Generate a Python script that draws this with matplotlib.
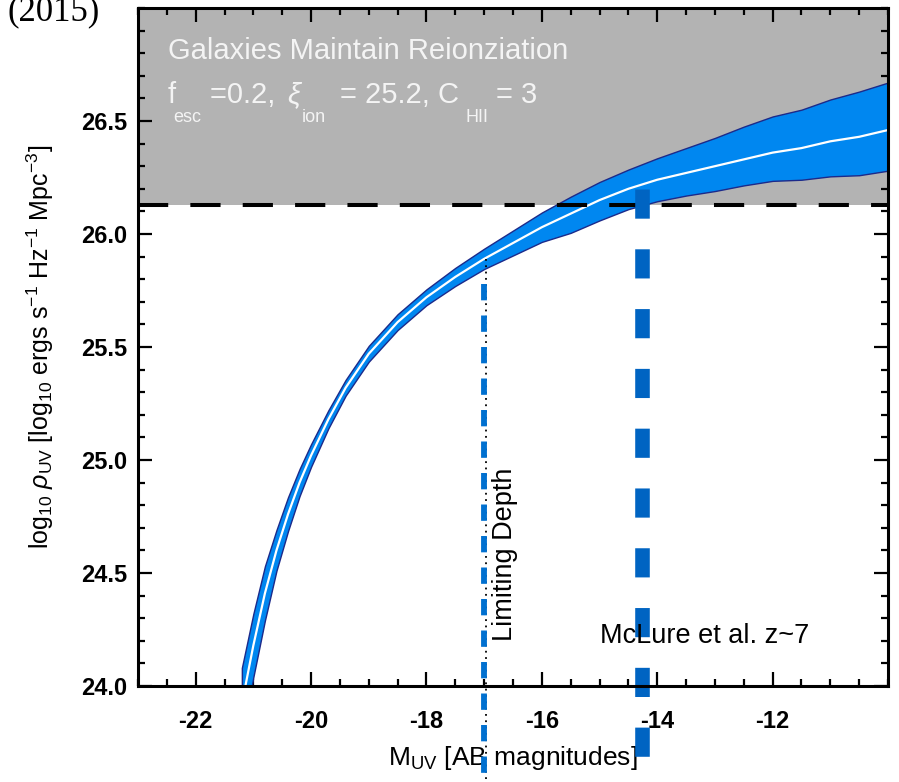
import numpy as np
import matplotlib.pyplot as plt
from matplotlib.ticker import MultipleLocator, FormatStrFormatter

plt.rcParams['font.family'] = ['Liberation Sans', 'DejaVu Sans']
plt.rcParams['mathtext.fontset'] = 'custom'
plt.rcParams['mathtext.rm'] = 'Liberation Sans'
plt.rcParams['mathtext.it'] = 'Liberation Sans:italic'
plt.rcParams['mathtext.bf'] = 'Liberation Sans:bold'

# UV luminosity density integrated down to M_UV
m_uv = [-21.2, -21.0, -20.8, -20.6, -20.4, -20.2, -20.0, -19.7, -19.4, -19.0,
        -18.5, -18.0, -17.5, -17.0, -16.5, -16.0, -15.5, -15.0, -14.5, -14.0,
        -13.5, -13.0, -12.5, -12.0, -11.5, -11.0, -10.5, -10.0]
rho_mid = [23.92, 24.18, 24.41, 24.60, 24.76, 24.90, 25.02, 25.18, 25.32, 25.47,
           25.61, 25.72, 25.81, 25.89, 25.96, 26.03, 26.09, 26.15, 26.20, 26.24,
           26.27, 26.30, 26.33, 26.36, 26.38, 26.41, 26.43, 26.46]
rho_hi = [24.08, 24.32, 24.53, 24.69, 24.835, 24.96, 25.07, 25.22, 25.355, 25.505,
          25.645, 25.755, 25.85, 25.935, 26.015, 26.095, 26.165, 26.23, 26.285, 26.335,
          26.38, 26.425, 26.475, 26.52, 26.55, 26.595, 26.63, 26.67]
rho_lo = [23.76, 24.04, 24.29, 24.51, 24.685, 24.84, 24.97, 25.14, 25.285, 25.435,
          25.575, 25.685, 25.77, 25.845, 25.905, 25.965, 26.005, 26.06, 26.11, 26.145,
          26.17, 26.19, 26.215, 26.235, 26.24, 26.255, 26.26, 26.28]

rho_crit = 26.13        # level needed to maintain reionization
m_limit = -17.0         # limiting depth
m_mclure = -14.27       # McLure et al. z~7

x_ticks = [-22, -20, -18, -16, -14, -12]
y_ticks = [24.0, 24.5, 25.0, 25.5, 26.0, 26.5]

fig = plt.figure(figsize=(8.99, 7.82), dpi=100)
ax = fig.add_axes([0.1535, 0.1228, 0.8343, 0.867])
ax.set_xlim(-23, -10)
ax.set_ylim(24, 27)

# shaded region + threshold
ax.axhspan(rho_crit, 27, color='#b3b3b3', lw=0, zorder=0)
ax.fill_between(m_uv, rho_lo, rho_hi, facecolor='#0087f0', edgecolor='#1c2a8a',
                lw=1.0, zorder=2)
ax.plot(m_uv, rho_mid, color='white', lw=1.6, zorder=3)
ax.axhline(rho_crit, color='black', lw=2.9, dashes=(7.5, 5.5), zorder=4)

# limiting depth line (blue dashes with a thin black dotted line)
y_lim_top = np.interp(m_limit, m_uv, rho_mid)
ax.plot([m_limit + 0.03, m_limit + 0.03], [y_lim_top, 23.3], color='black', lw=1.3,
        dashes=(1, 2.5), clip_on=False, zorder=5)
ax.plot([m_limit, m_limit], [y_lim_top - 0.11, 23.3], color='#0070d0', lw=4.2,
        dashes=(2.8, 2.6), dash_capstyle='butt', clip_on=False, zorder=5)

# McLure et al. line
ax.plot([m_mclure, m_mclure], [26.20, 23.3], color='#0064c2', lw=10.5,
        dashes=(2.0, 2.1), dash_capstyle='butt', clip_on=False, zorder=6)

# annotations
white = '#f4f4f4'
ax.text(0.04, 0.925, 'Galaxies Maintain Reionziation', transform=ax.transAxes,
        color=white, fontsize=21, va='baseline')
yb, ys = 0.860, 0.832
pieces = [(0.040, yb, 'f', 21, 'normal'), (0.047, ys, 'esc', 13, 'normal'),
          (0.096, yb, '=0.2, ', 21, 'normal'), (0.199, yb, '\u03be', 21, 'italic'),
          (0.218, ys, 'ion', 13, 'normal'), (0.269, yb, '= 25.2, C', 21, 'normal'),
          (0.436, ys, 'HII', 13, 'normal'), (0.477, yb, '= 3', 21, 'normal')]
for px, py, s, fs, st in pieces:
    ax.text(px, py, s, transform=ax.transAxes, color=white, fontsize=fs,
            style=st, va='baseline')

ax.text(m_limit + 0.14, 24.2, 'Limiting Depth', rotation=90, fontsize=19.5,
        ha='left', va='bottom', zorder=7)
ax.text(-14.99, 24.19, 'McLure et al. z~7', fontsize=19.5, va='baseline', zorder=7)

fig.text(0.008, 0.974, '(2015)', fontsize=25, family='Liberation Serif',
         va='baseline')

# axes styling
ax.set_xticks(x_ticks)
ax.set_yticks(y_ticks)
ax.xaxis.set_minor_locator(MultipleLocator(0.5))
ax.yaxis.set_minor_locator(MultipleLocator(0.1))
ax.yaxis.set_major_formatter(FormatStrFormatter('%.1f'))
ax.xaxis.set_major_formatter(FormatStrFormatter('%d'))
ax.tick_params(which='both', direction='in', top=True, right=True, width=1.6,
               color='black')
ax.tick_params(which='major', length=10)
ax.tick_params(which='minor', length=5)
ax.tick_params(axis='y', pad=8)
ax.tick_params(axis='x', pad=17)
for lab in ax.get_xticklabels() + ax.get_yticklabels():
    lab.set_fontsize(17)
    lab.set_fontweight('bold')
for sp in ax.spines.values():
    sp.set_linewidth(2.2)
    sp.set_zorder(8)

ax.set_xlabel(r'M$_{\mathrm{UV}}$ [AB magnitudes]', fontsize=19, labelpad=8)
ax.set_ylabel(r'$\mathrm{log_{10}}\ \rho_{\mathrm{UV}}\ [\mathrm{log_{10}\ ergs\ s^{-1}\ Hz^{-1}\ Mpc^{-3}}]$',
              fontsize=18, labelpad=18)

fig.savefig('out.png', dpi=100)
